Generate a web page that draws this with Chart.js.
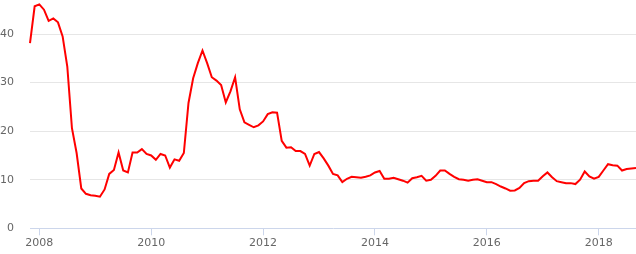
<!DOCTYPE html>
<html>
<head>
<meta charset="utf-8">
<script src="https://cdn.jsdelivr.net/npm/chart.js@4"></script>
<style>
    html, body { margin: 0; padding: 0; background: #ffffff; }
    #wrap { width: 636px; height: 254px; }
</style>
</head>
<body>
<div id="wrap"><canvas id="chart" width="636" height="254"></canvas></div>
<script>
// monthly series, first value is Nov 2007
const startYear = 2007;
const startMonth = 10; // 0-based, November
const values = [
    38.1, 45.7,
    46.1, 45.0, 42.7, 43.2, 42.4, 39.5, 33.3, 20.6, 15.5, 8.2, 7.1, 6.8,
    6.7, 6.5, 8.0, 11.2, 12.0, 15.6, 11.9, 11.5, 15.6, 15.6, 16.3, 15.3,
    15.0, 14.1, 15.3, 15.0, 12.5, 14.2, 13.9, 15.5, 25.8, 30.9, 34.0, 36.6,
    34.0, 31.1, 30.4, 29.5, 25.9, 28.2, 31.1, 24.5, 21.8, 21.3, 20.8, 21.2,
    22.0, 23.5, 23.9, 23.8, 18.0, 16.6, 16.7, 15.9, 15.9, 15.3, 12.9, 15.3,
    15.7, 14.4, 12.9, 11.2, 10.9, 9.5, 10.2, 10.6, 10.5, 10.4, 10.6, 10.9,
    11.5, 11.8, 10.2, 10.2, 10.4, 10.1, 9.8, 9.4, 10.3, 10.5, 10.8, 9.8,
    10.0, 10.8, 11.9, 11.9, 11.2, 10.6, 10.1, 10.0, 9.8, 10.0, 10.1, 9.8,
    9.5, 9.5, 9.1, 8.6, 8.2, 7.75, 7.8, 8.3, 9.3, 9.7, 9.8, 9.8,
    10.7, 11.5, 10.5, 9.7, 9.5, 9.3, 9.3, 9.1, 10.0, 11.7, 10.7, 10.2,
    10.6, 11.9, 13.2, 13.0, 12.9, 11.9, 12.2, 12.3, 12.4
];
const yearTicks = [2008, 2010, 2012, 2014, 2016, 2018];
const valueTicks = [0, 10, 20, 30, 40];

const points = values.map((v, i) => ({ x: startYear + (startMonth + i) / 12, y: v }));
const labelFont = { family: "'DejaVu Sans', sans-serif", size: 11 };

new Chart(document.getElementById('chart'), {
    type: 'line',
    data: {
        datasets: [{
            data: points,
            borderColor: '#ff0000',
            borderWidth: 2,
            pointRadius: 0,
            tension: 0,
            fill: false,
            clip: false,
        }],
    },
    options: {
        responsive: false,
        animation: false,
        devicePixelRatio: 1,
        layout: { padding: { left: 0, right: 0, top: 0, bottom: 0 } },
        plugins: {
            legend: { display: false },
            tooltip: { enabled: false },
        },
        scales: {
            x: {
                type: 'linear',
                min: points[0].x,
                max: points[points.length - 1].x,
                afterBuildTicks: (axis) => {
                    axis.ticks = yearTicks.map((v) => ({ value: v }));
                },
                afterFit: (axis) => {
                    axis.height = 25.7;
                },
                grid: {
                    drawOnChartArea: false,
                    drawTicks: true,
                    tickLength: 7,
                    tickColor: '#ccd6eb',
                },
                border: { color: '#ccd6eb', width: 1 },
                ticks: {
                    padding: 1,
                    maxRotation: 0,
                    autoSkip: false,
                    color: '#666666',
                    font: labelFont,
                    callback: (v) => String(v),
                },
            },
            y: {
                type: 'linear',
                min: 0,
                max: 47,
                afterBuildTicks: (axis) => {
                    axis.ticks = valueTicks.map((v) => ({ value: v }));
                },
                afterFit: (axis) => {
                    axis.width = 30;
                    axis.paddingTop = 0;
                    axis.paddingBottom = 0;
                },
                grid: {
                    drawTicks: false,
                    color: (ctx) => (ctx.tick && ctx.tick.value === 0 ? 'rgba(0,0,0,0)' : '#e6e6e6'),
                },
                border: { display: false },
                ticks: {
                    padding: 16,
                    color: '#666666',
                    font: labelFont,
                },
            },
        },
    },
});
</script>
</body>
</html>
